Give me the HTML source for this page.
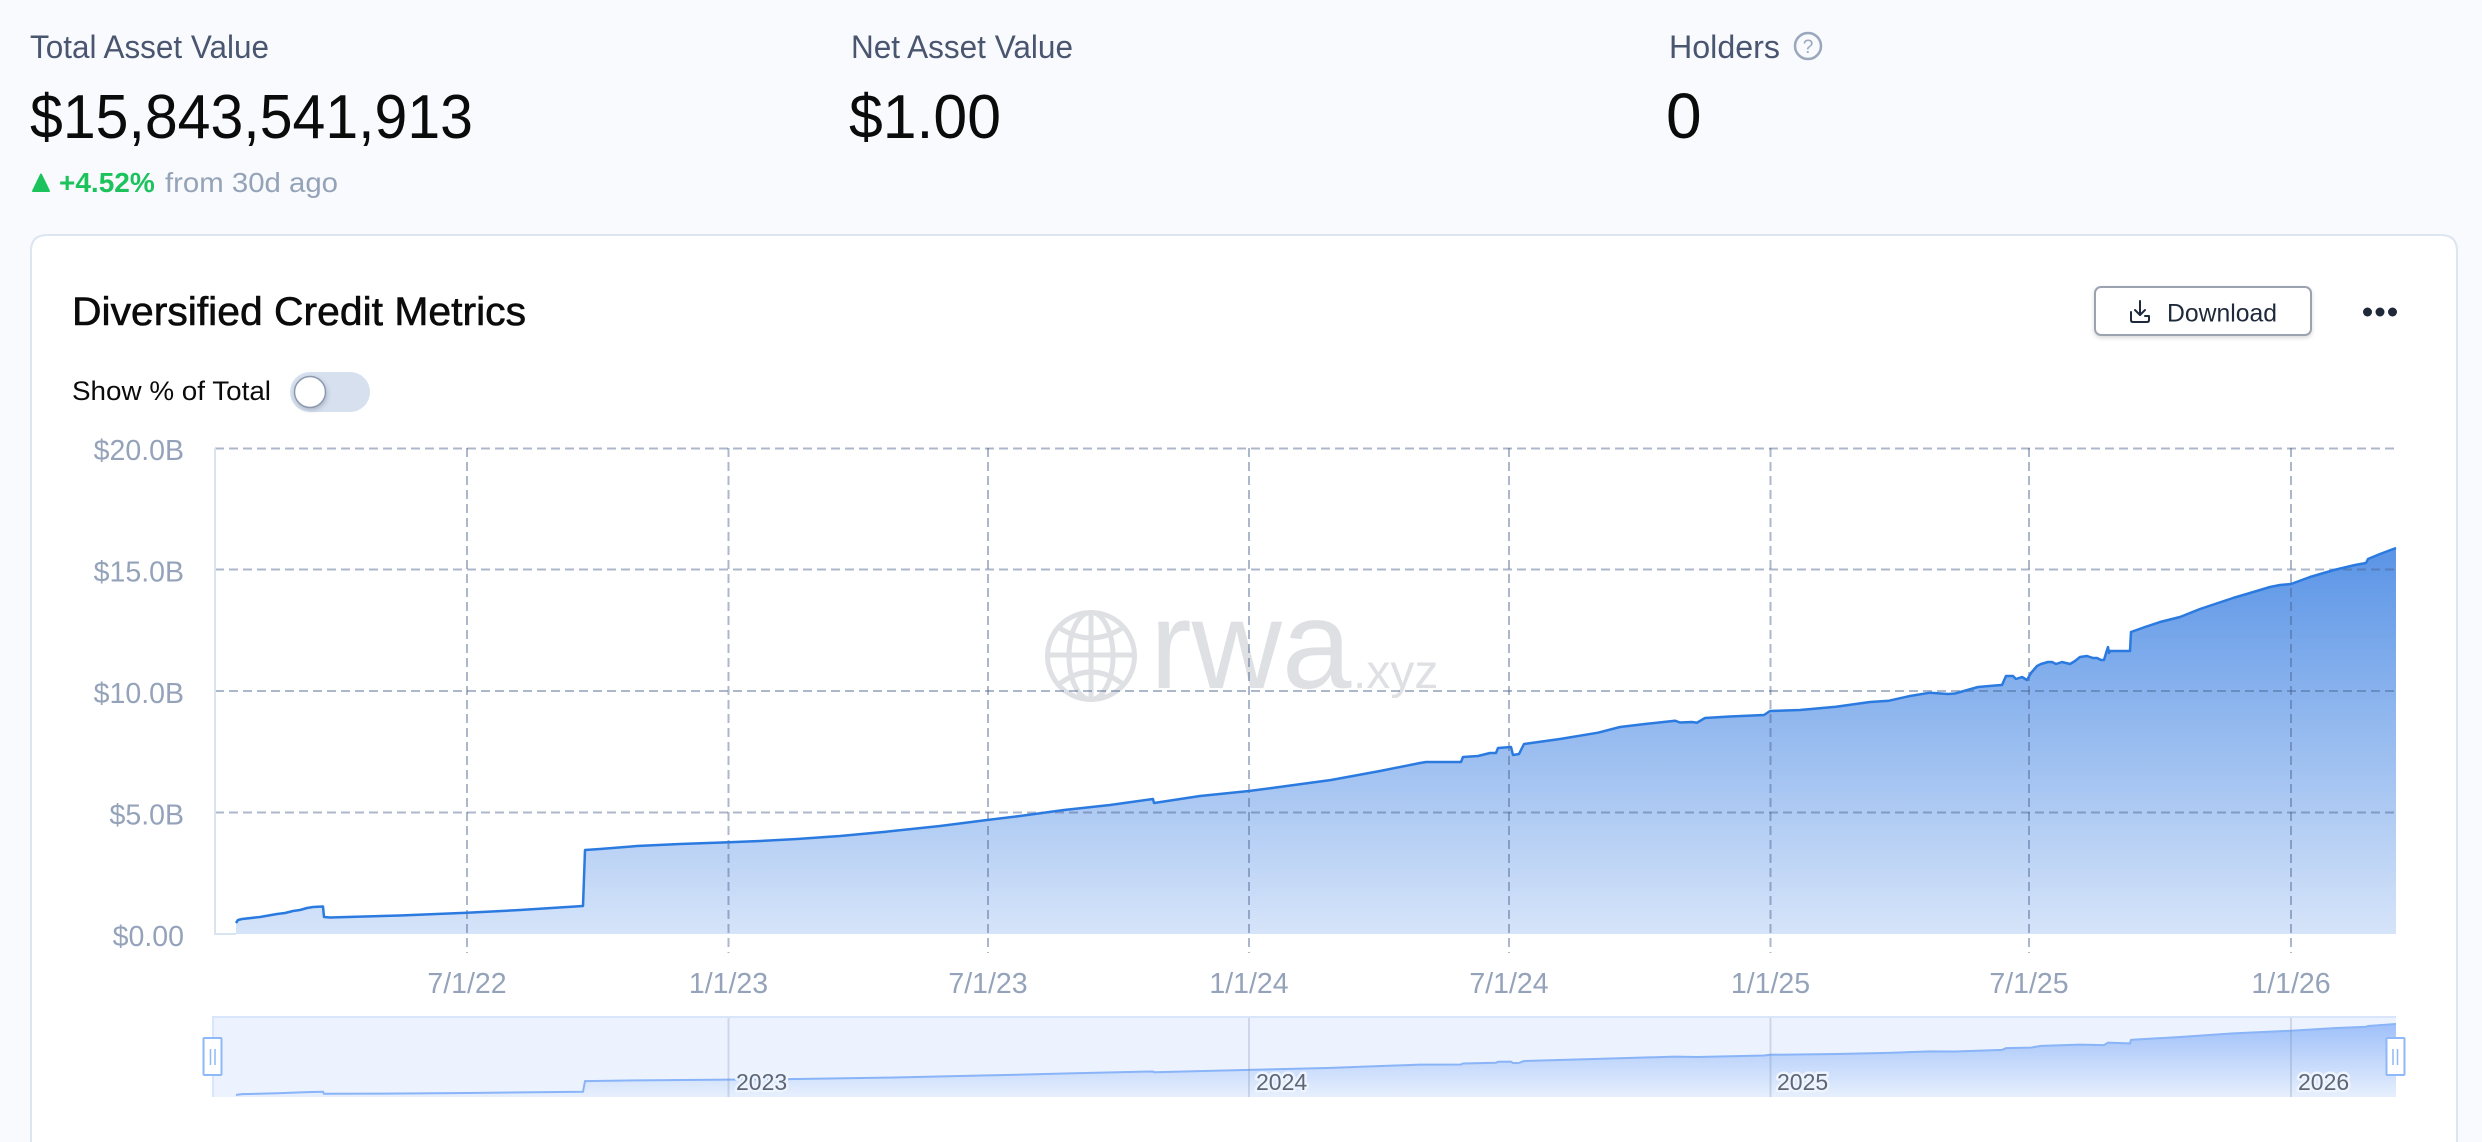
<!DOCTYPE html>
<html>
<head>
<meta charset="utf-8">
<style>
html,body{margin:0;padding:0;background:#f8fafd;width:2482px;height:1142px;overflow:hidden;}
svg{display:block;}
</style>
</head>
<body>
<svg width="2482" height="1142" viewBox="0 0 2482 1142" xmlns="http://www.w3.org/2000/svg" font-family="'Liberation Sans', Arial, sans-serif">
  <defs>
    <linearGradient id="mainFill" x1="0" y1="0" x2="0" y2="1">
      <stop offset="0" stop-color="#5a94e6"/>
      <stop offset="1" stop-color="#d6e4f9"/>
    </linearGradient>
    <linearGradient id="navFill" x1="0" y1="0" x2="0" y2="1">
      <stop offset="0" stop-color="#9fc0f9"/>
      <stop offset="1" stop-color="#e6effd"/>
    </linearGradient>
    <filter id="btnShadow" x="-10%" y="-20%" width="120%" height="160%">
      <feDropShadow dx="0" dy="2" stdDeviation="2" flood-color="#000" flood-opacity="0.15"/>
    </filter>
    <filter id="knobShadow" x="-50%" y="-50%" width="200%" height="200%">
      <feDropShadow dx="1" dy="2" stdDeviation="2" flood-color="#2a3a55" flood-opacity="0.25"/>
    </filter>
  </defs>

  <rect x="0" y="0" width="2482" height="1142" fill="#f8fafd"/>

  <!-- Header stats -->
  <text x="30" y="58" font-size="32" fill="#4a5670" textLength="239" lengthAdjust="spacingAndGlyphs">Total Asset Value</text>
  <text x="30" y="138" font-size="62" fill="#0b0b0c" textLength="443" lengthAdjust="spacingAndGlyphs">$15,843,541,913</text>
  <path d="M33 191 L41 174.5 L49 191 Z" fill="#1cc35c" stroke="#1cc35c" stroke-width="2" stroke-linejoin="round"/>
  <text x="59" y="192" font-size="28" font-weight="bold" fill="#1cc35c">+4.52%</text>
  <text x="165" y="192" font-size="28" fill="#94a3b8" textLength="173" lengthAdjust="spacingAndGlyphs">from 30d ago</text>

  <text x="851" y="58" font-size="32" fill="#4a5670" textLength="222" lengthAdjust="spacingAndGlyphs">Net Asset Value</text>
  <text x="849" y="138" font-size="62" fill="#0b0b0c" textLength="152" lengthAdjust="spacingAndGlyphs">$1.00</text>

  <text x="1669" y="58" font-size="32" fill="#4a5670" textLength="111" lengthAdjust="spacingAndGlyphs">Holders</text>
  <circle cx="1808" cy="46" r="13" fill="none" stroke="#9aa7bd" stroke-width="2.5"/>
  <text x="1808" y="53" font-size="19" fill="#9aa7bd" text-anchor="middle">?</text>
  <text x="1666" y="138" font-size="64" fill="#0b0b0c">0</text>

  <!-- Card (open at bottom, clipped by frame) -->
  <path d="M31 1142 L31 251 Q31 235 47 235 L2441 235 Q2457 235 2457 251 L2457 1142 Z" fill="#ffffff"/>
  <path d="M31 1142 L31 251 Q31 235 47 235 L2441 235 Q2457 235 2457 251 L2457 1142" fill="none" stroke="#dce5f1" stroke-width="2"/>

  <text x="72" y="325" font-size="39.5" fill="#0b0b0c" stroke="#0b0b0c" stroke-width="0.6" textLength="454" lengthAdjust="spacingAndGlyphs">Diversified Credit Metrics</text>

  <text x="72" y="400" font-size="27" fill="#0b0b0c" textLength="199" lengthAdjust="spacingAndGlyphs">Show % of Total</text>
  <rect x="290" y="372" width="80" height="40" rx="20" fill="#d6e0ef"/>
  <circle cx="310" cy="392" r="15.5" fill="#ffffff" stroke="#8d99ad" stroke-width="1.5" filter="url(#knobShadow)"/>

  <!-- Download button -->
  <rect x="2095" y="287" width="216" height="48" rx="6" fill="#ffffff" stroke="#9ca3af" stroke-width="2" filter="url(#btnShadow)"/>
  <g fill="none" stroke="#1e293b" stroke-width="2" stroke-linecap="round" stroke-linejoin="round">
    <path d="M2140 301 L2140 315"/>
    <path d="M2135 310 L2140 315 L2145 310"/>
    <path d="M2131 312 L2131 320 Q2131 322 2133 322 L2147 322 Q2149 322 2149 320 L2149 316 L2145 316"/>
  </g>
  <text x="2167" y="321.5" font-size="25" fill="#1e293b" textLength="110" lengthAdjust="spacingAndGlyphs">Download</text>
  <circle cx="2367.5" cy="312" r="4.5" fill="#1f2937"/>
  <circle cx="2380" cy="312" r="4.5" fill="#1f2937"/>
  <circle cx="2392.5" cy="312" r="4.5" fill="#1f2937"/>

  <!-- Watermark -->
  <g stroke="#dfe0e4" stroke-width="5" fill="none">
    <circle cx="1091" cy="656" r="43.5"/>
    <ellipse cx="1091" cy="656" rx="22" ry="43.5"/>
    <line x1="1091" y1="612.5" x2="1091" y2="699.5"/>
    <line x1="1047.5" y1="655" x2="1134.5" y2="655"/>
    <path d="M1058 627 Q1091 649 1124 627"/>
    <path d="M1058 685 Q1091 659 1124 685"/>
  </g>
  <text x="1150" y="688" font-size="125" fill="#dfe0e4">rwa</text>
  <text x="1353" y="688" font-size="48" fill="#dfe0e4">.xyz</text>

  <!-- Main area fill -->
  <path fill="url(#mainFill)" d="M236 934 L236 923 L238 920 L242 919 L260 917 L277 914 L285 913 L293 911 L300 910 L307 908 L313 907 L323 906.5 L324 917 L330 917.5 L400 915.5 L467 912.8 L520 910 L583 906 L585 850 L600 849 L637 846 L680 844 L729 842.3 L760 841 L797 839 L840 836 L886 831.7 L940 826 L987 820 L1020 816 L1064 810 L1110 805 L1153 799 L1154 803 L1200 796 L1249 791 L1272 788 L1331 780 L1380 771 L1420 763 L1426 762 L1461 762 L1463 757 L1478 756 L1490 753 L1496 753 L1498 748 L1511 747 L1513 755 L1519 754 L1524 744 L1560 739 L1598 732.7 L1620 727 L1645 724 L1675 720.7 L1680 722.5 L1692 722 L1697 722.7 L1705 718 L1730 716.5 L1764 715 L1770 711 L1800 710 L1836 706.7 L1870 702 L1889 700.7 L1910 696 L1930 692.7 L1948 694 L1955 693.5 L1978 687 L1995 685.5 L2002 685 L2006 676 L2013 676 L2016 679 L2022 677 L2027 680 L2031 673 L2037 666 L2041 664 L2048 662 L2052 662 L2056 664 L2062 662 L2066 663 L2070 664 L2075 661 L2080 657 L2087 656 L2093 658 L2097 658 L2101 660 L2104 660 L2107 650 L2108 647 L2109 653 L2110 651 L2130 651 L2131 632 L2145 627 L2160 622 L2180 617 L2200 609 L2215 604 L2233 598 L2250 593 L2270 587 L2280 585 L2291 584 L2310 577 L2334 570 L2355 565 L2366 563 L2368 559 L2380 554 L2388 551 L2396 548 L2396 934 Z"/>

  <!-- Grid -->
  <g stroke="rgba(70,95,140,0.45)" stroke-width="2" stroke-dasharray="9 5" fill="none">
    <line x1="215" y1="448.5" x2="2396" y2="448.5"/>
    <line x1="215" y1="569.5" x2="2396" y2="569.5"/>
    <line x1="215" y1="691" x2="2396" y2="691"/>
    <line x1="215" y1="812.5" x2="2396" y2="812.5"/>
    <line x1="467" y1="448" x2="467" y2="953"/>
    <line x1="728.5" y1="448" x2="728.5" y2="953"/>
    <line x1="988" y1="448" x2="988" y2="953"/>
    <line x1="1249" y1="448" x2="1249" y2="953"/>
    <line x1="1509" y1="448" x2="1509" y2="953"/>
    <line x1="1770.5" y1="448" x2="1770.5" y2="953"/>
    <line x1="2029" y1="448" x2="2029" y2="953"/>
    <line x1="2291" y1="448" x2="2291" y2="953"/>
  </g>
  <!-- Axis lines -->
  <line x1="215" y1="448" x2="215" y2="935" stroke="#dae3f0" stroke-width="2"/>
  <line x1="214" y1="934" x2="236" y2="934" stroke="#dae3f0" stroke-width="2"/>

  <!-- Main line -->
  <path fill="none" stroke="#2b7ae0" stroke-width="2.5" stroke-linejoin="round" d="M236 923 L238 920 L242 919 L260 917 L277 914 L285 913 L293 911 L300 910 L307 908 L313 907 L323 906.5 L324 917 L330 917.5 L400 915.5 L467 912.8 L520 910 L583 906 L585 850 L600 849 L637 846 L680 844 L729 842.3 L760 841 L797 839 L840 836 L886 831.7 L940 826 L987 820 L1020 816 L1064 810 L1110 805 L1153 799 L1154 803 L1200 796 L1249 791 L1272 788 L1331 780 L1380 771 L1420 763 L1426 762 L1461 762 L1463 757 L1478 756 L1490 753 L1496 753 L1498 748 L1511 747 L1513 755 L1519 754 L1524 744 L1560 739 L1598 732.7 L1620 727 L1645 724 L1675 720.7 L1680 722.5 L1692 722 L1697 722.7 L1705 718 L1730 716.5 L1764 715 L1770 711 L1800 710 L1836 706.7 L1870 702 L1889 700.7 L1910 696 L1930 692.7 L1948 694 L1955 693.5 L1978 687 L1995 685.5 L2002 685 L2006 676 L2013 676 L2016 679 L2022 677 L2027 680 L2031 673 L2037 666 L2041 664 L2048 662 L2052 662 L2056 664 L2062 662 L2066 663 L2070 664 L2075 661 L2080 657 L2087 656 L2093 658 L2097 658 L2101 660 L2104 660 L2107 650 L2108 647 L2109 653 L2110 651 L2130 651 L2131 632 L2145 627 L2160 622 L2180 617 L2200 609 L2215 604 L2233 598 L2250 593 L2270 587 L2280 585 L2291 584 L2310 577 L2334 570 L2355 565 L2366 563 L2368 559 L2380 554 L2388 551 L2396 548"/>

  <!-- Y labels -->
  <g font-size="28.5" fill="#95a3ba" text-anchor="end">
    <text x="184" y="460">$20.0B</text>
    <text x="184" y="581.5">$15.0B</text>
    <text x="184" y="703">$10.0B</text>
    <text x="184" y="824.5">$5.0B</text>
    <text x="184" y="946">$0.00</text>
  </g>

  <!-- X labels -->
  <g font-size="28.5" fill="#95a3ba" text-anchor="middle">
    <text x="467" y="993">7/1/22</text>
    <text x="728.5" y="993">1/1/23</text>
    <text x="988" y="993">7/1/23</text>
    <text x="1249" y="993">1/1/24</text>
    <text x="1509" y="993">7/1/24</text>
    <text x="1770.5" y="993">1/1/25</text>
    <text x="2029" y="993">7/1/25</text>
    <text x="2291" y="993">1/1/26</text>
  </g>

  <!-- Navigator -->
  <rect x="212" y="1016" width="2184" height="81" fill="#edf3fe"/>
  <g transform="translate(0,920.2) scale(1,0.1893)">
    <path fill="url(#navFill)" d="M236 934 L236 923 L242 919 L277 914 L307 908 L323 906.5 L324 917 L400 915.5 L467 912.8 L583 906 L585 850 L637 846 L729 842.3 L797 839 L886 831.7 L987 820 L1064 810 L1153 799 L1154 803 L1249 791 L1331 780 L1420 763 L1461 762 L1463 757 L1496 753 L1498 748 L1511 747 L1513 755 L1519 754 L1524 744 L1598 732.7 L1675 720.7 L1697 722.7 L1764 715 L1770 711 L1836 706.7 L1889 700.7 L1930 692.7 L1955 693.5 L2002 685 L2006 676 L2031 673 L2041 664 L2080 657 L2104 660 L2108 647 L2130 651 L2131 632 L2180 617 L2233 598 L2291 584 L2334 570 L2366 563 L2368 559 L2396 548 L2396 934 Z"/>
    <path fill="none" stroke="#8ab4f8" stroke-width="2" vector-effect="non-scaling-stroke" d="M236 923 L242 919 L277 914 L307 908 L323 906.5 L324 917 L400 915.5 L467 912.8 L583 906 L585 850 L637 846 L729 842.3 L797 839 L886 831.7 L987 820 L1064 810 L1153 799 L1154 803 L1249 791 L1331 780 L1420 763 L1461 762 L1463 757 L1496 753 L1498 748 L1511 747 L1513 755 L1519 754 L1524 744 L1598 732.7 L1675 720.7 L1697 722.7 L1764 715 L1770 711 L1836 706.7 L1889 700.7 L1930 692.7 L1955 693.5 L2002 685 L2006 676 L2031 673 L2041 664 L2080 657 L2104 660 L2108 647 L2130 651 L2131 632 L2180 617 L2233 598 L2291 584 L2334 570 L2366 563 L2368 559 L2396 548"/>
  </g>
  <line x1="212" y1="1017" x2="2396" y2="1017" stroke="#d9e5fb" stroke-width="2"/>
  <line x1="213" y1="1016" x2="213" y2="1097" stroke="#d9e5fb" stroke-width="2"/>
  <g stroke="rgba(110,130,165,0.25)" stroke-width="2">
    <line x1="728.5" y1="1018" x2="728.5" y2="1097"/>
    <line x1="1249" y1="1018" x2="1249" y2="1097"/>
    <line x1="1770.5" y1="1018" x2="1770.5" y2="1097"/>
    <line x1="2291" y1="1018" x2="2291" y2="1097"/>
  </g>
  <g font-size="23" fill="#5d6778" stroke="#eef4fe" stroke-width="5" paint-order="stroke" stroke-linejoin="round">
    <text x="736" y="1090">2023</text>
    <text x="1256" y="1090">2024</text>
    <text x="1777" y="1090">2025</text>
    <text x="2298" y="1090">2026</text>
  </g>

  <!-- Handles -->
  <rect x="203.5" y="1038" width="18" height="37" rx="1" fill="#ffffff" stroke="#8fb8fa" stroke-width="2"/>
  <line x1="210.5" y1="1049" x2="210.5" y2="1065" stroke="#8fb8fa" stroke-width="1.5"/>
  <line x1="215" y1="1049" x2="215" y2="1065" stroke="#8fb8fa" stroke-width="1.5"/>
  <rect x="2386.5" y="1038" width="18" height="37" rx="1" fill="#ffffff" stroke="#8fb8fa" stroke-width="2"/>
  <line x1="2393" y1="1049" x2="2393" y2="1065" stroke="#8fb8fa" stroke-width="1.5"/>
  <line x1="2397.5" y1="1049" x2="2397.5" y2="1065" stroke="#8fb8fa" stroke-width="1.5"/>
</svg>
</body>
</html>
